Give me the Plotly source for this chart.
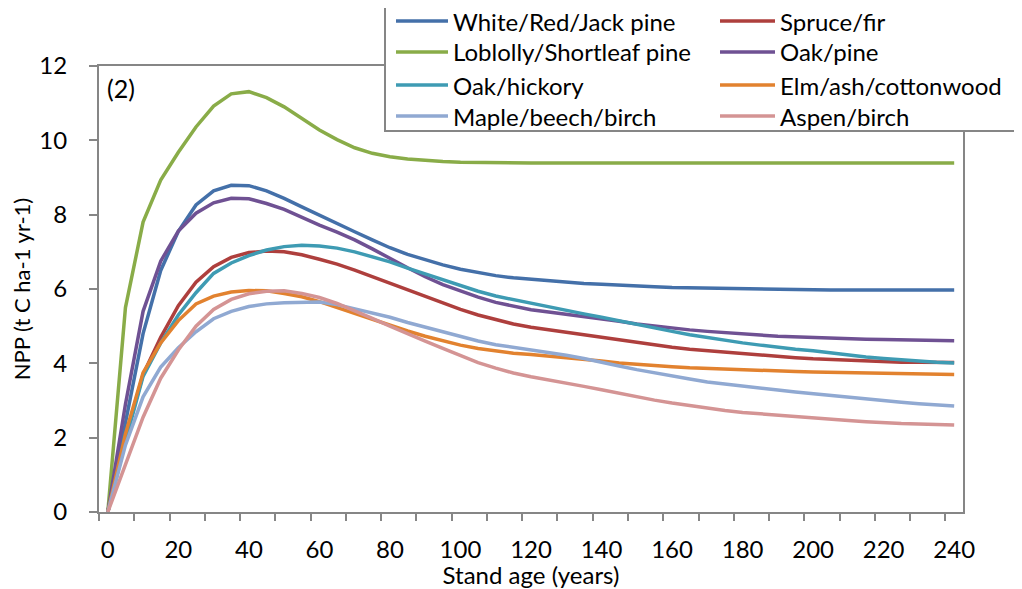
import plotly.graph_objects as go

# stand age (years), one point every 5 years
age = list(range(0, 245, 5))

white_red_jack = [0, 2.4, 4.8, 6.5, 7.55, 8.26, 8.64, 8.79, 8.78, 8.64, 8.44, 8.21, 7.98, 7.77, 7.54,
                  7.32, 7.11, 6.93, 6.78, 6.65, 6.53, 6.44, 6.36, 6.3, 6.26, 6.22, 6.18, 6.15, 6.13,
                  6.1, 6.08, 6.06, 6.04, 6.03, 6.02, 6.01, 6.0, 5.99, 5.99, 5.98, 5.98, 5.97, 5.97,
                  5.97, 5.97, 5.97, 5.97, 5.97, 5.97]
spruce_fir = [0, 2.0, 3.7, 4.7, 5.55, 6.18, 6.6, 6.85, 6.98, 7.02, 7.0, 6.92, 6.8, 6.67, 6.51,
              6.33, 6.15, 5.97, 5.79, 5.61, 5.45, 5.3, 5.17, 5.06, 4.97, 4.9, 4.84, 4.77, 4.7,
              4.62, 4.55, 4.49, 4.43, 4.38, 4.34, 4.29, 4.25, 4.22, 4.19, 4.15, 4.12, 4.1, 4.08,
              4.06, 4.04, 4.03, 4.03, 4.02, 4.02]
loblolly = [0, 5.5, 7.8, 8.93, 9.68, 10.36, 10.92, 11.25, 11.31, 11.15, 10.9, 10.6, 10.28, 10.02,
            9.8, 9.65, 9.56, 9.5, 9.46, 9.43, 9.41, 9.4, 9.4, 9.39, 9.39, 9.39, 9.39, 9.39, 9.39,
            9.39, 9.39, 9.39, 9.39, 9.39, 9.39, 9.39, 9.39, 9.39, 9.39, 9.39, 9.39, 9.39, 9.39,
            9.39, 9.39, 9.39, 9.39, 9.39, 9.39]
oak_pine = [0, 2.9, 5.4, 6.75, 7.56, 8.04, 8.32, 8.44, 8.43, 8.3, 8.14, 7.92, 7.72, 7.53, 7.32,
            7.08, 6.82, 6.57, 6.33, 6.12, 5.95, 5.78, 5.64, 5.53, 5.44, 5.38, 5.32, 5.26, 5.21,
            5.13, 5.06, 5.0, 4.94, 4.9, 4.86, 4.82, 4.79, 4.76, 4.73, 4.71, 4.69, 4.67, 4.66,
            4.65, 4.64, 4.63, 4.62, 4.61, 4.61]
oak_hickory = [0, 1.9, 3.65, 4.55, 5.3, 5.9, 6.42, 6.7, 6.9, 7.05, 7.14, 7.18, 7.16, 7.1, 7.0,
               6.87, 6.73, 6.56, 6.4, 6.24, 6.08, 5.94, 5.81, 5.71, 5.61, 5.52, 5.42, 5.33, 5.24,
               5.14, 5.05, 4.95, 4.86, 4.77, 4.69, 4.62, 4.55, 4.49, 4.43, 4.38, 4.34, 4.28, 4.22,
               4.17, 4.13, 4.09, 4.05, 4.03, 4.01]
elm_ash = [0, 2.1, 3.75, 4.55, 5.15, 5.6, 5.81, 5.92, 5.96, 5.95, 5.88, 5.79, 5.66, 5.5, 5.34,
           5.17, 5.01, 4.87, 4.73, 4.6, 4.49, 4.4, 4.33, 4.27, 4.24, 4.2, 4.15, 4.1, 4.06, 4.01,
           3.97, 3.94, 3.91, 3.88, 3.86, 3.84, 3.82, 3.81, 3.79, 3.78, 3.77, 3.76, 3.75, 3.74,
           3.73, 3.72, 3.71, 3.7, 3.7]
maple_beech = [0, 1.8, 3.1, 3.9, 4.42, 4.85, 5.2, 5.4, 5.53, 5.6, 5.63, 5.65, 5.65, 5.58, 5.47,
               5.35, 5.24, 5.1, 4.97, 4.84, 4.72, 4.6, 4.5, 4.43, 4.36, 4.3, 4.22, 4.13, 4.04,
               3.93, 3.83, 3.74, 3.66, 3.58, 3.5, 3.44, 3.38, 3.33, 3.28, 3.23, 3.18, 3.13, 3.08,
               3.03, 2.99, 2.95, 2.91, 2.88, 2.85]
aspen_birch = [0, 1.3, 2.55, 3.6, 4.36, 5.0, 5.45, 5.72, 5.87, 5.94, 5.95, 5.88, 5.77, 5.61, 5.42,
               5.21, 5.0, 4.81, 4.6, 4.4, 4.2, 4.02, 3.87, 3.74, 3.64, 3.56, 3.48, 3.38, 3.29,
               3.19, 3.1, 3.01, 2.93, 2.86, 2.79, 2.73, 2.68, 2.64, 2.6, 2.56, 2.52, 2.49, 2.46,
               2.43, 2.4, 2.38, 2.37, 2.35, 2.34]

x_ticks = list(range(0, 260, 20))

# legend order: two columns, filled row by row
series = [
    ("White/Red/Jack pine", white_red_jack, "#4470A9"),
    ("Spruce/fir", spruce_fir, "#AE3F3D"),
    ("Loblolly/Shortleaf pine", loblolly, "#89AC48"),
    ("Oak/pine", oak_pine, "#6F5193"),
    ("Oak/hickory", oak_hickory, "#3E9BB3"),
    ("Elm/ash/cottonwood", elm_ash, "#E2822F"),
    ("Maple/beech/birch", maple_beech, "#90A9D2"),
    ("Aspen/birch", aspen_birch, "#D49494"),
]

gray = "#868686"
font = "Lato, 'Open Sans', sans-serif"

# the page body adds an 8px margin, so the figure is drawn 8px smaller and
# all screen positions below are shifted back by that amount
OFF = 8
W, H = 1022 - OFF, 589 - OFF
L, R, T, B = 99 - OFF, 963 - OFF, 66 - OFF, 512 - OFF

def px(x):
    return (x - OFF - L) / (R - L)

def py(y):
    return (B - (y - OFF)) / (B - T)

fig = go.Figure()
for name, vals, col in series:
    fig.add_trace(go.Scatter(x=age, y=vals, name=name, mode="lines",
                             line=dict(color=col, width=3.5), showlegend=False))

fig.update_layout(
    width=W, height=H,
    margin=dict(l=L, r=W - R, t=T, b=H - B),
    plot_bgcolor="white", paper_bgcolor="white",
    font=dict(family=font, size=24, color="black"),
    showlegend=False,
)

fig.update_xaxes(
    range=[-2.5, 242.5], tickmode="array", tickvals=x_ticks, ticks="",
    showline=True, linecolor=gray, linewidth=2, mirror=True, automargin=False,
    showgrid=False, zeroline=False, ticklabelstandoff=15,
    minor=dict(ticks="outside", tickmode="linear", tick0=-2.5, dtick=10,
               ticklen=7, tickwidth=2, tickcolor=gray, showgrid=False),
    title=dict(text="Stand age (years)", standoff=8, font=dict(size=24)),
)
fig.update_yaxes(
    range=[0, 12], tickmode="linear", tick0=0, dtick=2,
    ticks="outside", ticklen=8, tickwidth=2, tickcolor=gray,
    showline=True, linecolor=gray, linewidth=2, mirror=True, automargin=False,
    showgrid=False, zeroline=False, ticklabelstandoff=17,
    title=dict(text="NPP (t C ha-1 yr-1)", standoff=7, font=dict(size=22)),
)

# legend frame, drawn over the plot border
fig.add_shape(type="rect", xref="paper", yref="paper",
              x0=px(385), x1=px(1018), y0=py(131), y1=py(7),
              line=dict(color=gray, width=2), fillcolor="white", layer="above")

rows = [21, 52, 85, 116]
cols = [(396, 448, 451), (720, 775, 778)]
for i, (name, _, col) in enumerate(series):
    x0, x1, xt = cols[i % 2]
    yy = rows[i // 2]
    fig.add_shape(type="line", xref="paper", yref="paper",
                  x0=px(x0), x1=px(x1), y0=py(yy), y1=py(yy),
                  line=dict(color=col, width=3.5), layer="above")
    fig.add_annotation(text=name, xref="paper", yref="paper", x=px(xt), y=py(yy),
                       xanchor="left", yanchor="middle", showarrow=False,
                       font=dict(size=24))

fig.add_annotation(text="(2)", xref="paper", yref="paper", x=px(105), y=py(71),
                   xanchor="left", yanchor="top", showarrow=False, font=dict(size=25))

fig.write_html("out.html")
